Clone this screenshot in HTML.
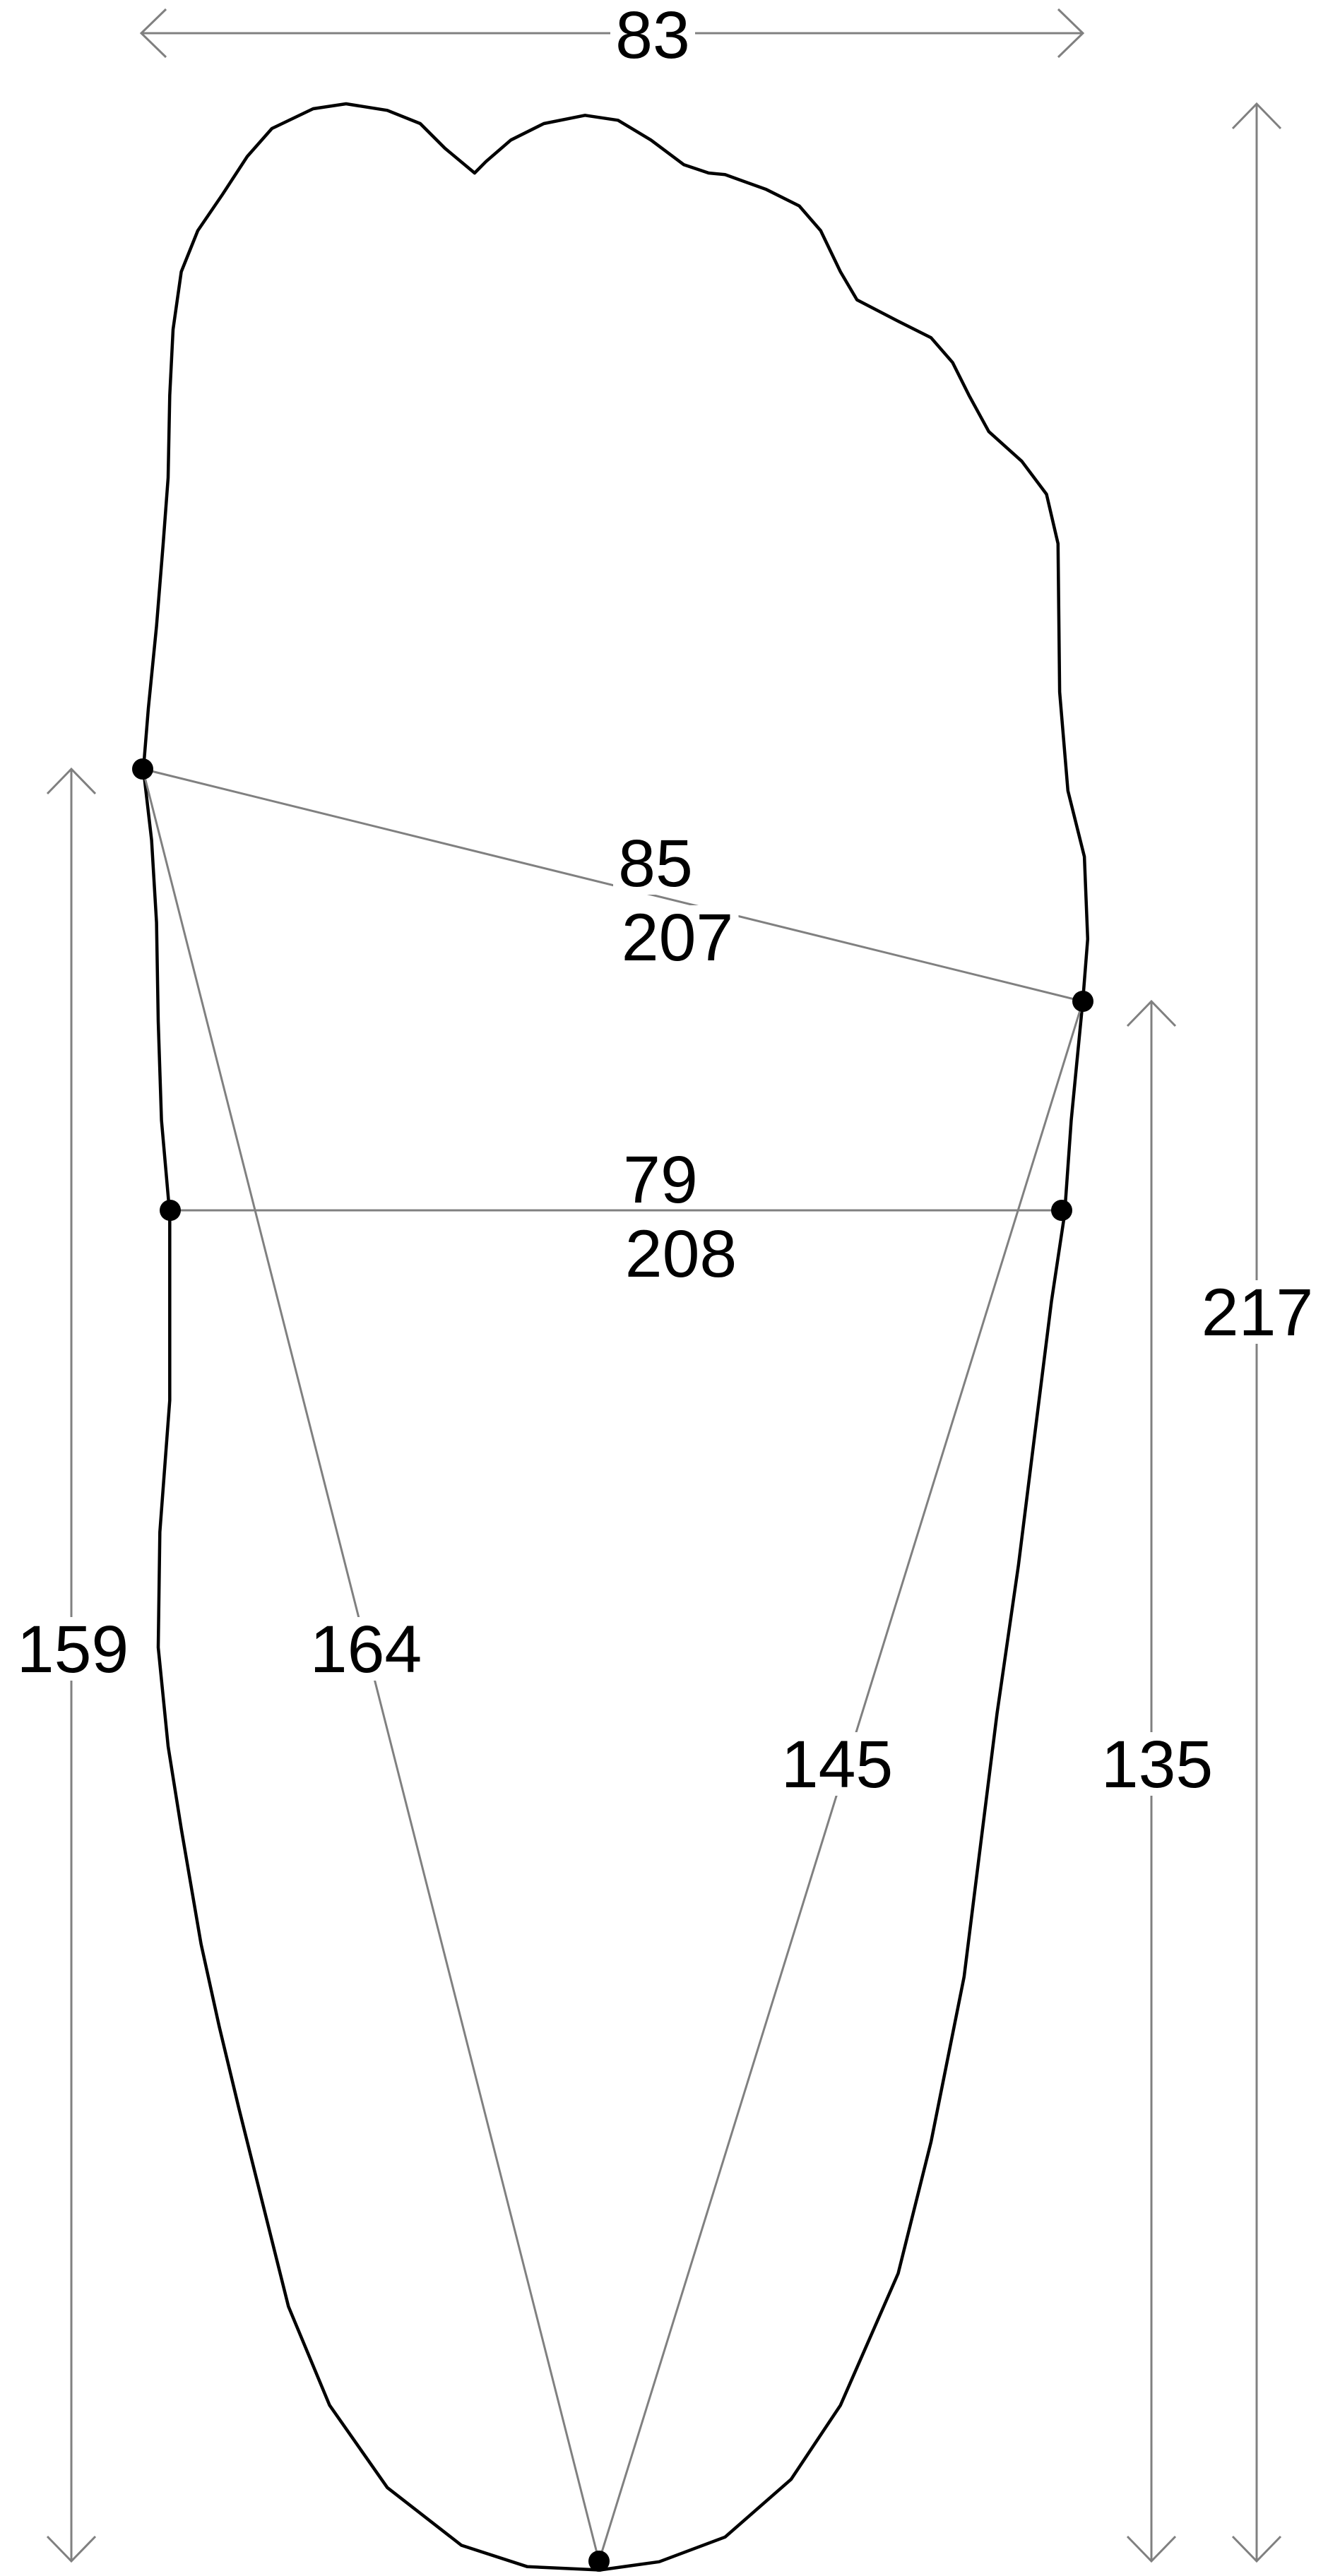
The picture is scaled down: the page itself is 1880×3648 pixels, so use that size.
<!DOCTYPE html>
<html><head><meta charset="utf-8"><style>
html,body{margin:0;padding:0;background:#fff;}
svg{display:block;}
text{font-family:"Liberation Sans",sans-serif;font-size:95px;fill:#000;}
</style></head><body>
<svg id="fig" width="1880" height="3648" viewBox="0 0 1880 3648" xmlns="http://www.w3.org/2000/svg"></svg>
<script>
// measured dimension values (mm)
const dimLabels = ["83","85","207","79","208","217","159","164","145","135"];
const dimNames = ["width-83","ball-width-85","ball-girth-207","waist-width-79","waist-girth-208","foot-length-217","inner-ball-length-159","diag-164","diag-145","outer-ball-length-135"];
const dimCenterX = [924,928,959,935,964,1780,103,518,1185,1638];
const dimBaseY = [82,1255,1360,1703,1808,1891,2368,2368,2531,2531];
// landmark points (px)
const markNames = ["inner-ball","outer-ball","inner-waist","outer-waist","heel"];
const markX = [202,1533,241,1503,848];
const markY = [1089,1418,1714,1714,3627];
// foot outline (display units, scaled by k)
const outlineX = [288,270,255,235,210,190,165,150,135,120,110,105,103,102,99,95,90,87,92,95,96,98,103,103,103,97,96,102,110,122,133,145,160,175,200,235,280,320,364,400,440,480,510,545,565,585,595,605,618,628,638,646,650,657,660,658,648,643,642,635,620,600,588,578,565,545,520,510,498,485,465,440,430,415,395,375,355,330,310,295,288];
const outlineY = [105,90,75,67,63,66,78,95,118,140,165,200,240,290,330,380,430,467,510,560,620,680,737,780,850,930,1000,1060,1110,1180,1230,1280,1340,1400,1460,1510,1545,1558,1560,1555,1540,1505,1460,1380,1300,1200,1120,1040,950,870,790,737,680,608,570,520,480,420,330,300,280,262,240,220,205,195,182,165,140,125,115,106,105,100,85,73,70,75,85,98,105];
const k = 2.333;
const NS = "http://www.w3.org/2000/svg";
const svg = document.getElementById('fig');
function mk(tag, attrs){const e=document.createElementNS(NS,tag);for(const a in attrs)e.setAttribute(a,attrs[a]);svg.appendChild(e);return e;}
const G="#808080";
// outline
let d="";
for(let i=0;i<outlineX.length;i++){d+=(i?"L":"M")+(outlineX[i]*k).toFixed(1)+" "+(outlineY[i]*k).toFixed(1);}
const ol=mk('path',{d:d+"Z",fill:"none",stroke:"#000","stroke-width":4.5,"stroke-linejoin":"round"});


// measurement lines between landmarks
const segs=[[0,1],[2,3],[0,4],[1,4]];
const segNames=["ball-line","waist-line","inner-diagonal","outer-diagonal"];
segs.forEach((s,i)=>{const l=mk('line',{x1:markX[s[0]],y1:markY[s[0]],x2:markX[s[1]],y2:markY[s[1]],stroke:G,"stroke-width":3});

});
// dimension arrows
function arrowHead(x,y,dx,dy){const px=-dy,py=dx;mk('polyline',{points:`${x+dx*35+px*34},${y+dy*35+py*34} ${x},${y} ${x+dx*35-px*34},${y+dy*35-py*34}`,fill:"none",stroke:G,"stroke-width":3});}
const ar=[[200,47,1533,47,true,"top-width-arrow"],[1779,147,1779,3627,false,"length-arrow"],[1630,1418,1630,3627,false,"outer-length-arrow"],[101,1089,101,3627,false,"inner-length-arrow"]];
ar.forEach(a=>{const l=mk('line',{x1:a[0],y1:a[1],x2:a[2],y2:a[3],stroke:G,"stroke-width":3});


if(a[4]){arrowHead(a[0],a[1],1,0);arrowHead(a[2],a[3],-1,0);}else{arrowHead(a[0],a[1],0,1);arrowHead(a[2],a[3],0,-1);}});
// labels with white backing
dimLabels.forEach((t,i)=>{
 const w=t.length*53+14;
 if(i!==3&&i!==4){const r=mk('rect',{x:dimCenterX[i]-w/2,y:dimBaseY[i]-78,width:w,height:90,fill:"#fff"});
 
 }
 const e=mk('text',{x:dimCenterX[i],y:dimBaseY[i],"text-anchor":"middle"});
 e.textContent=t;
 
 
});
// landmark dots
markNames.forEach((n,i)=>{const c=mk('circle',{cx:markX[i],cy:markY[i],r:15,fill:"#000"});

});
</script>
</body></html>
